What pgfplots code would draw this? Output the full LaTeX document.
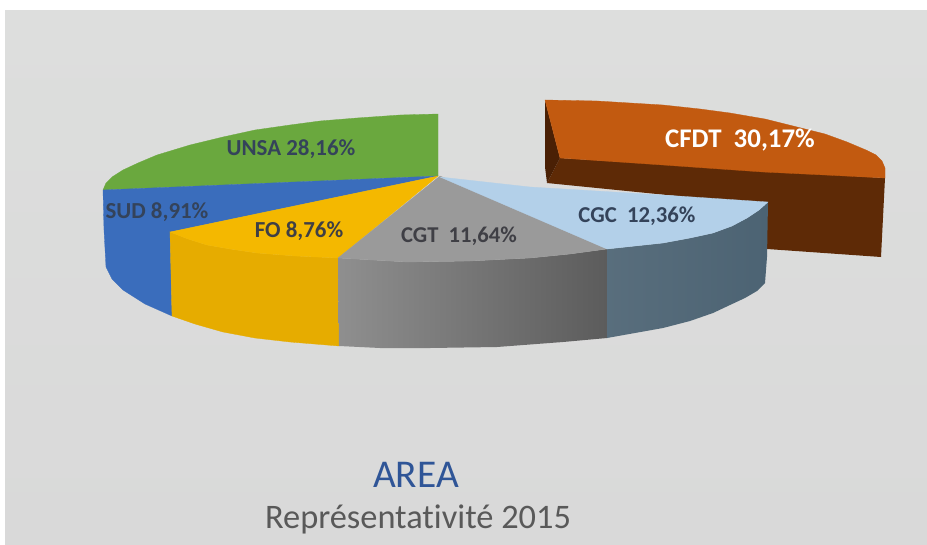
\documentclass[border=0pt]{standalone}
\usepackage{pgfplots}
\pgfplotsset{compat=1.18}
\usepackage{fontspec}
\setmainfont[Ligatures=NoCommon]{Carlito}
\definecolor{paneltop}{HTML}{DDDEDD}
\definecolor{panelbot}{HTML}{D9D9D9}
\definecolor{unsa}{HTML}{6AA83E}
\definecolor{sud}{HTML}{3A6DBC}
\definecolor{fotop}{HTML}{F4B800}
\definecolor{foside}{HTML}{E6AC00}
\definecolor{cgttop}{HTML}{9A9A9A}
\definecolor{cgcside}{HTML}{4C6373}
\definecolor{cgctop}{HTML}{B3D0E9}
\definecolor{cfdttop}{HTML}{C25A10}
\definecolor{cfdtside}{HTML}{5E2A06}
\definecolor{cfdtleft}{HTML}{4A2005}
\definecolor{labA}{HTML}{34435A}
\definecolor{labB}{HTML}{3F3F45}
\definecolor{titleblue}{HTML}{2F5597}
\begin{document}
\begin{tikzpicture}
\begin{axis}[scale only axis,width=927bp,height=545bp,xmin=0,xmax=927,ymin=0,ymax=545,y dir=reverse,axis lines=none,clip=true]
% page and panel
\addplot[fill=white,draw=none] coordinates {(0,0)(927,0)(927,545)(0,545)} --cycle;
\addplot[top color=paneltop,bottom color=panelbot,draw=none] coordinates {(5,11)(927,11)(927,545)(5,545)} --cycle;
% CFDT
\addplot[fill=cfdtside,draw=none] coordinates {(560,158)(885,178)(881,257)(767,249)(767,205)(547,183)} --cycle;
\addplot[fill=cfdtleft,draw=none] coordinates {(545,100)(560,158)(547,183)(545,167)} --cycle;
\addplot[fill=cfdttop,draw=cfdttop,line width=0.3pt] coordinates {(545,100)(597,101)(663,105)(700,109)(730,113)(765,119)(797,127)(825,134)(847,142)(866,150)(876,155)(882,161)(885,168)(885,178)(825,175)(763,172)(663,165)(560,158)} --cycle;
% UNSA
\addplot[fill=unsa,draw=unsa,line width=0.3pt] coordinates {(438,114)(400,115)(357,118)(320,121)(290,125)(255,130)(223,137)(190,145)(157,155)(138,163)(123,170)(112,177)(106,183)(103,190)(438,176)} --cycle;
% SUD
\addplot[fill=sud,draw=sud,line width=0.3pt] coordinates {(438,176)(103,190)(104,230)(106,267)(112,279)(123,290)(145,304)(172,316)(170,232)} --cycle;
% FO
\addplot[fill=foside,draw=foside,line width=0.3pt] coordinates {(170,232)(172,316)(195,324)(223,332)(255,338)(290,342)(339,346)(338,258)(295,256)(257,253)(230,249)(207,245)(188,239)} --cycle;
\addplot[fill=fotop,draw=fotop,line width=0.3pt] coordinates {(438,176)(170,232)(188,239)(207,245)(230,249)(257,253)(295,256)(338,258)} --cycle;
% CGT
\addplot[left color=black!44,right color=black!64,draw=none] coordinates {(338,258)(339,346)(380,348)(430,348)(497,347)(563,342)(607,338)(607,249)(570,254)(530,258)(470,261)(407,262)} --cycle;
\addplot[fill=cgttop,draw=cgttop,line width=0.3pt] coordinates {(440,176)(338,258)(407,262)(470,261)(530,258)(570,254)(607,249)} --cycle;
% CGC
\addplot[left color=cgcside!93!white,right color=cgcside,draw=none] coordinates {(607,249)(607,338)(663,328)(690,321)(713,313)(730,305)(745,298)(757,291)(765,283)(767,257)(768,202)(759,210)(747,218)(732,226)(713,233)(690,238)(663,243)(635,246)} --cycle;
\addplot[fill=cgctop,draw=cgctop,line width=0.3pt] coordinates {(440,177)(530,187)(663,195)(768,202)(759,210)(747,218)(732,226)(713,233)(690,238)(663,243)(635,246)(607,249)} --cycle;
% labels
\node[font=\fontsize{23}{23}\selectfont\bfseries,text=labA] at (axis cs:291,149) {UNSA 28,16\%};
\node[font=\fontsize{23}{23}\selectfont\bfseries,text=labA] at (axis cs:157,212) {SUD 8,91\%};
\node[font=\fontsize{23}{23}\selectfont\bfseries,text=labB] at (axis cs:299,231) {FO 8,76\%};
\node[font=\fontsize{22.7}{22.7}\selectfont\bfseries,text=labB] at (axis cs:459,236) {CGT\ \ 11,64\%};
\node[font=\fontsize{22.8}{22.8}\selectfont\bfseries,text=labA] at (axis cs:637,216) {CGC\ \ 12,36\%};
\node[font=\fontsize{27}{27}\selectfont\bfseries,text=white] at (axis cs:740,140) {CFDT\ \ 30,17\%};
\node[font=\fontsize{39.5}{39.5}\selectfont,text=titleblue] at (axis cs:416,475) {AREA};
\node[font=\fontsize{34.5}{34.5}\selectfont,text=black!65] at (axis cs:418,519) {Représentativité 2015};
\end{axis}
\end{tikzpicture}
\end{document}
